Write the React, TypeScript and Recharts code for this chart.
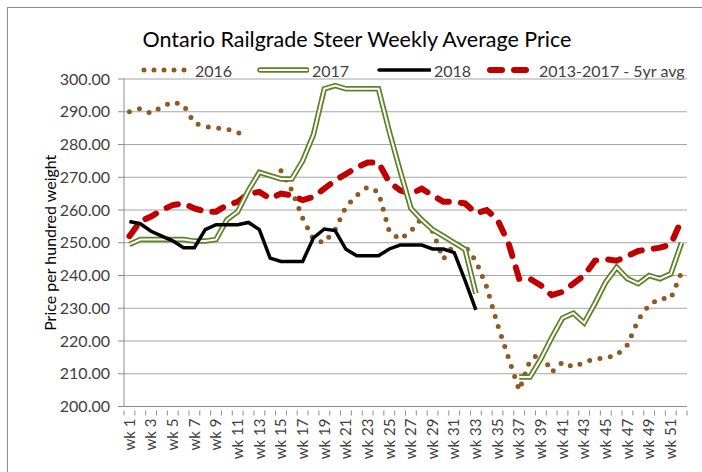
import { LineChart, Line, XAxis, YAxis, CartesianGrid, Label } from 'recharts';

const weeks = [
  'wk 1', 'wk 2', 'wk 3', 'wk 4', 'wk 5', 'wk 6', 'wk 7', 'wk 8', 'wk 9', 'wk 10',
  'wk 11', 'wk 12', 'wk 13', 'wk 14', 'wk 15', 'wk 16', 'wk 17', 'wk 18', 'wk 19', 'wk 20',
  'wk 21', 'wk 22', 'wk 23', 'wk 24', 'wk 25', 'wk 26', 'wk 27', 'wk 28', 'wk 29', 'wk 30',
  'wk 31', 'wk 32', 'wk 33', 'wk 34', 'wk 35', 'wk 36', 'wk 37', 'wk 38', 'wk 39', 'wk 40',
  'wk 41', 'wk 42', 'wk 43', 'wk 44', 'wk 45', 'wk 46', 'wk 47', 'wk 48', 'wk 49', 'wk 50',
  'wk 51', 'wk 52',
];

const price2016 = [
  290, 291, 289.5, 291.5, 293, 292, 286.5, 285.5, 285, 284.8, 283.5, 283.5, null, null,
  272, 266, 257.5, 251, 250, 254, 261, 264.5, 267, 265.5, 253.5, 251, 253.5, 257.5, 253.5,
  245, 249.5, 249, 244.5, 236.5, 225, 215, 205, 214, 216.5, 210.5, 213.5, 212, 213.5,
  214.5, 214.8, 215.7, 218.8, 226.5, 231, 233, 233, 241,
];

const price2017 = [
  249.5, 251, 251, 251, 251, 251, 250.5, 250.5, 251, 257, 259.5, 266, 271.5, 270.5, 269.5,
  269.5, 275, 283, 297, 298, 297, 297, 297, 297, 284, 272, 260.5, 257, 254, 252, 250, 248,
  234.5, null, null, null, 209, 209, 214.5, 221, 227, 228.5, 225.5, 231.5, 238, 242.5, 239,
  237.5, 240, 239, 240.5, 250,
];

const price2018 = [
  256.5, 255.8, 253.5, 252, 250.6, 248.5, 248.5, 254, 255.5, 255.5, 255.5, 256.2, 254,
  245.3, 244.3, 244.3, 244.3, 251.5, 254.2, 253.7, 248, 246, 246, 246, 248.1, 249.3, 249.3,
  249.3, 248.1, 248.1, 247, 238.5, 229.5,
];

const avg5yr = [
  252, 256.5, 258, 260, 261.5, 262, 260.5, 259.5, 259.5, 261.5, 262.5, 265, 265.5, 263.5,
  265, 264.5, 263, 264, 266.5, 269, 271, 273, 274.5, 274.5, 268.5, 266, 265, 266.5, 264.5,
  262.5, 262.5, 262, 259, 260, 257, 250, 239, 239, 237, 234, 235, 237.5, 240, 244.5, 245,
  244.5, 246, 247.5, 248, 248.5, 249.5, 257,
];

const yTicks = [200, 210, 220, 230, 240, 250, 260, 270, 280, 290, 300];

const data = weeks.map((week, i) => ({
  week,
  y2016: price2016[i] ?? null,
  y2017: price2017[i] ?? null,
  y2018: price2018[i] ?? null,
  avg: avg5yr[i] ?? null,
}));

const FONT = 'Lato, "Open Sans", sans-serif';
const TEXT = '#404040';
const BROWN = '#8f5a22';
const GREEN = '#5f8228';
const RED = '#c00000';
const AXIS = '#8c8c8c';

// odd weeks get a label, every category gets a small tick on its left edge
function WeekTick(props: any) {
  const { x, y, payload, index } = props;
  const half = payload?.offset ?? 5.4;
  const isLast = index === weeks.length - 1;
  return (
    <g>
      <line x1={x - half} x2={x - half} y1={y - 8} y2={y - 3} stroke={AXIS} />
      {isLast && <line x1={x + half} x2={x + half} y1={y - 8} y2={y - 3} stroke={AXIS} />}
      {index % 2 === 0 && (
        <text
          x={x}
          y={y}
          transform={`rotate(-90, ${x}, ${y})`}
          textAnchor="end"
          dy="0.35em"
          fontSize={15}
          fontFamily={FONT}
          fill={TEXT}
        >
          {payload.value}
        </text>
      )}
    </g>
  );
}

function LegendRow() {
  const item = (left: number, width: number, symbol: any, label: string) => (
    <div style={{ position: 'absolute', left, top: 60, height: 20, display: 'flex', alignItems: 'center' }}>
      <svg width={width} height={20} style={{ display: 'block' }}>{symbol}</svg>
      <span style={{ fontFamily: FONT, fontSize: 16, color: TEXT, marginLeft: 3, whiteSpace: 'nowrap' }}>{label}</span>
    </div>
  );
  return (
    <>
      {item(140, 52,
        <line x1={4} x2={50} y1={10} y2={10} stroke={BROWN} strokeWidth={5} strokeDasharray="0 10" strokeLinecap="round" />,
        '2016')}
      {item(257, 52,
        <g>
          <line x1={3} x2={50} y1={10} y2={10} stroke={GREEN} strokeWidth={5.5} strokeLinecap="round" />
          <line x1={3} x2={50} y1={10} y2={10} stroke="#fff" strokeWidth={2} strokeLinecap="round" />
        </g>,
        '2017')}
      {item(377, 54,
        <line x1={2} x2={53} y1={10} y2={10} stroke="#000" strokeWidth={3.5} strokeLinecap="round" />,
        '2018')}
      {item(486, 50,
        <line x1={4} x2={48} y1={10} y2={10} stroke={RED} strokeWidth={6} strokeDasharray="12 12" strokeLinecap="round" />,
        '2013-2017 - 5yr avg')}
    </>
  );
}

export default function App() {
  return (
    <div style={{ position: 'absolute', left: 0, top: 0, width: 702, height: 472, overflow: 'hidden', background: '#fff' }}>
      <div style={{ position: 'absolute', left: 7, top: 7, width: 740, height: 520, border: `1px solid ${AXIS}` }} />
      <div
        style={{
          position: 'absolute', left: 0, width: 714, top: 26, textAlign: 'center',
          fontFamily: FONT, fontSize: 21.5, color: '#000', whiteSpace: 'nowrap',
        }}
      >
        Ontario Railgrade Steer Weekly Average Price
      </div>
      <LegendRow />
      <div style={{ position: 'absolute', left: 0, top: 0 }}>
        <LineChart width={702} height={472} data={data} margin={{ top: 79, right: 15, bottom: 0, left: 0 }}>
          <CartesianGrid vertical={false} stroke="#a6a6a6" />
          <XAxis
            dataKey="week"
            scale="band"
            interval={0}
            height={65.5}
            tickLine={false}
            axisLine={{ stroke: AXIS }}
            tick={<WeekTick />}
            tickMargin={0}
            tickSize={12}
          />
          <YAxis
            domain={[200, 300]}
            ticks={yTicks}
            width={124}
            tickFormatter={(v: number) => v.toFixed(2)}
            tick={{ fontSize: 16, fontFamily: FONT, fill: TEXT }}
            tickLine={{ stroke: AXIS }}
            tickSize={6}
            tickMargin={8}
            axisLine={{ stroke: AXIS }}
          >
            <Label
              value="Price per hundred weight"
              angle={-90}
              position="insideLeft"
              offset={50}
              style={{ textAnchor: 'middle', fontSize: 16, fontFamily: FONT, fill: '#000' }}
            />
          </YAxis>
          <Line
            dataKey="avg"
            stroke={RED}
            strokeWidth={6}
            strokeDasharray="12 12"
            strokeLinecap="round"
            dot={false}
            activeDot={false}
            type="linear"
            isAnimationActive={false}
          />
          <Line
            dataKey="y2016"
            stroke={BROWN}
            strokeWidth={5}
            strokeDasharray="0 10.5"
            strokeLinecap="round"
            dot={false}
            activeDot={false}
            type="linear"
            isAnimationActive={false}
          />
          <Line
            dataKey="y2017"
            stroke={GREEN}
            strokeWidth={5.5}
            dot={false}
            activeDot={false}
            type="linear"
            isAnimationActive={false}
          />
          <Line
            dataKey="y2017"
            stroke="#fff"
            strokeWidth={2}
            dot={false}
            activeDot={false}
            type="linear"
            legendType="none"
            isAnimationActive={false}
          />
          <Line
            dataKey="y2018"
            stroke="#000"
            strokeWidth={3.5}
            dot={false}
            activeDot={false}
            type="linear"
            isAnimationActive={false}
          />
        </LineChart>
      </div>
    </div>
  );
}
